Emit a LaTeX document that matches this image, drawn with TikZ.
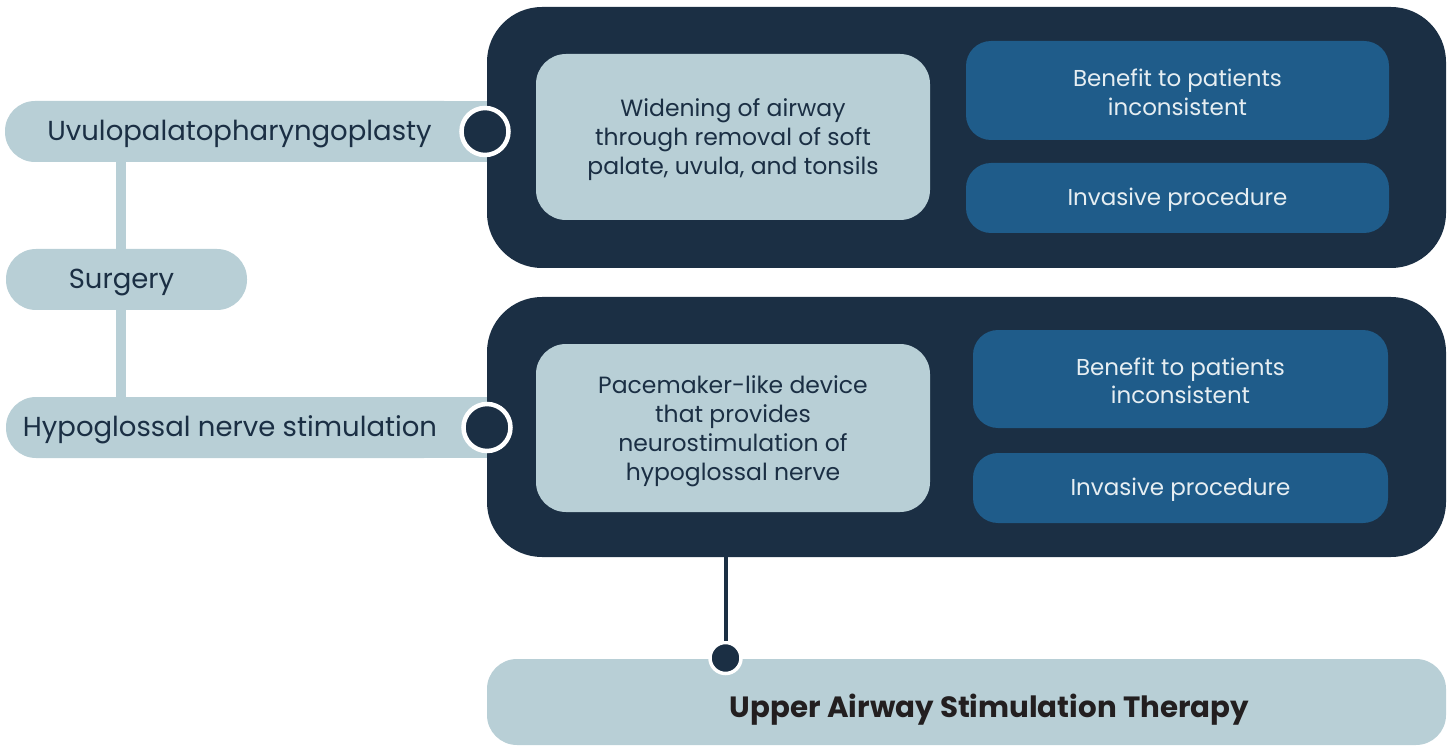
\documentclass[tikz,border=0pt]{standalone}
\usepackage{fontspec}
\setmainfont{Poppins}
\usetikzlibrary{positioning,backgrounds}

\definecolor{navy}{HTML}{1B2F44}
\definecolor{paleblue}{HTML}{B8CFD6}
\definecolor{midblue}{HTML}{1F5C8A}
\definecolor{bluetext}{HTML}{E6EEF2}
\definecolor{inkblack}{HTML}{231F20}

% taller first line, so the text sits a little lower in its box
\newcommand{\lowerby}[1]{\rule{0pt}{\dimexpr\fontcharht\font`\l+#1\relax}}

\tikzset{
  panel/.style={fill=navy, rounded corners=55pt, minimum width=959pt, minimum height=261pt},
  pill/.style={fill=paleblue, rounded corners=30pt, minimum height=61pt, text=navy,
    font=\fontsize{27.5}{32}\selectfont, execute at begin node={\lowerby{6pt}}},
  infobox/.style={fill=paleblue, rounded corners=30pt, minimum width=394pt, text=navy,
    align=center, font=\fontsize{23.5}{29}\selectfont},
  issuebox/.style={fill=midblue, rounded corners=25pt, text=bluetext,
    align=center, font=\fontsize{23}{28.5}\selectfont},
  joint/.style={circle, fill=navy, draw=white, inner sep=0pt},
  vline/.style={draw=paleblue, line width=10pt},
  dline/.style={draw=navy, line width=4pt}
}

\begin{document}
\begin{tikzpicture}[x=1pt, y=-1pt]
		\useasboundingbox (0,0) rectangle (1452,746);
		% left column
		\draw (239.5,131.5) node [pill, minimum width=469pt] (upp) {Uvulopalatopharyngoplasty};
		\draw (126.5,279.5) node [pill, minimum width=241pt] (srg) {\hspace*{-10pt}Surgery};
		\draw (230,427.5) node [pill, minimum width=448pt] (hns) {Hypoglossal nerve stimulation};
		\coordinate (vx) at (121,0);
		\draw[vline] (upp.south -| vx) -- (srg.north -| vx);
		\draw[vline] (srg.south -| vx) -- (hns.north -| vx);
		% panels
		\draw (966.5,137.5) node [panel] (top) {};
		\draw (966.5,427) node [panel, minimum height=260pt] (bot) {};
		\begin{scope}[on background layer]
			\fill[paleblue] (upp.north) rectangle (upp.south -| top.west);
			\fill[paleblue] (hns.north) rectangle (hns.south -| bot.west);
		\end{scope}
		% top panel content
		\draw (733,137) node [infobox, minimum height=166pt] (wid)
			{\lowerby{6pt}Widening of airway\\through removal of soft\\palate, uvula, and tonsils};
		\draw (1177.5,90.5) node [issuebox, minimum width=423pt, minimum height=99pt] (ben1)
			{\lowerby{4pt}Benefit to patients\\inconsistent};
		\draw (1177.5,198) node [issuebox, minimum width=423pt, minimum height=70pt] (inv1)
			{\lowerby{4pt}Invasive procedure};
		% bottom panel content
		\draw (733,428) node [infobox, minimum height=168pt] (pace)
			{\lowerby{6pt}Pacemaker-like device\\that provides\\neurostimulation of\\hypoglossal nerve};
		\draw (1180.5,379) node [issuebox, minimum width=415pt, minimum height=98pt] (ben2)
			{\lowerby{4pt}Benefit to patients\\inconsistent};
		\draw (1180.5,488) node [issuebox, minimum width=415pt, minimum height=70pt] (inv2)
			{\lowerby{4pt}Invasive procedure};
		% joints
		\draw (485,131.5) node [joint, minimum size=47pt, line width=4.5pt] (j1) {};
		\draw (487,427.5) node [joint, minimum size=47pt, line width=4.5pt] (j2) {};
		% therapy
		\draw (966.5,702) node [fill=paleblue, rounded corners=30pt, minimum width=959pt,
			minimum height=86pt, text=inkblack, font=\fontsize{29.3}{34}\selectfont\bfseries,
			text depth=0pt, text height=30pt] (uas)
			{\hspace*{46pt}Upper Airway Stimulation Therapy};
		\draw (725.5,658) node [joint, minimum size=31pt, line width=3.5pt] (j3) {};
		\draw[dline] (j3.center |- bot.south) -- (j3.north);
	\end{tikzpicture}
\end{document}
